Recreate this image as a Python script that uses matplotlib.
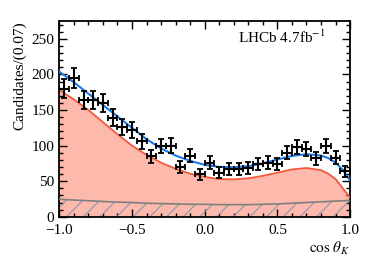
import numpy as np
import matplotlib
matplotlib.use("Agg")
import matplotlib.pyplot as plt
from matplotlib.ticker import MultipleLocator

plt.rcParams['font.family'] = ['Liberation Serif', 'DejaVu Serif']
plt.rcParams['mathtext.fontset'] = 'stix'
plt.rcParams['hatch.color'] = '#8a9aab'
plt.rcParams['hatch.linewidth'] = 0.8

# data points (30 bins in cos theta_K)
bin_centres = np.linspace(-1, 1, 31)[:-1] + 1 / 30
counts = [180, 195, 164, 164, 160, 139, 126, 122, 106, 85,
          99, 100, 70, 86, 60, 76, 62, 67, 67, 69,
          74, 76, 74, 90, 98, 95, 82, 99, 83, 64]

# fit curves
curve_x = [-1.0, -0.9, -0.8, -0.7, -0.6, -0.5, -0.4, -0.3, -0.2, -0.1, 0.0,
           0.1, 0.2, 0.3, 0.4, 0.5, 0.6, 0.7, 0.8, 0.85, 0.9, 0.95, 1.0]
total_fit = [204, 189, 173, 157, 141, 125, 109, 96, 86, 78.5, 73,
             70, 69.5, 71, 75, 80.5, 85.5, 88, 86, 82.5, 76, 66, 51]
signal_fit = [178, 165, 150, 133, 116, 100, 87, 76, 67.5, 60.5, 56,
              53, 52.5, 54, 57.5, 62, 66.5, 68.5, 65.5, 60.5, 53, 40, 27]
background = [24.5, 23.5, 22.5, 21.5, 20.5, 20, 19, 18.5, 18, 17.5, 17.5,
              17, 17, 17, 17.5, 18, 19, 20, 21, 21.5, 22, 22.5, 23]

fig = plt.figure(figsize=(3.74, 2.64), dpi=100)
ax = fig.add_axes([0.1586, 0.179, 0.7775, 0.741])

ax.fill_between(curve_x, 0, signal_fit, color='#fcb9ac', lw=0, zorder=1)
ax.fill_between(curve_x, 0, background, facecolor='none', edgecolor='#8a9aab',
                hatch='//', lw=0, zorder=2)
ax.plot(curve_x, background, color='#7f7f7f', lw=1.2, zorder=3)
ax.plot(curve_x, signal_fit, color='#f4583c', lw=1.3, zorder=4)
ax.plot(curve_x, total_fit, color='#1a7be6', lw=1.5, zorder=5)

ax.errorbar(bin_centres, counts, xerr=1 / 30, yerr=np.sqrt(counts), fmt='none',
            ecolor='black', elinewidth=1.5, capsize=2.5, capthick=1.3, zorder=6)

ax.set_xlim(-1, 1)
ax.set_ylim(0, 275)
ax.xaxis.set_major_locator(MultipleLocator(0.5))
ax.xaxis.set_minor_locator(MultipleLocator(0.1))
ax.yaxis.set_major_locator(MultipleLocator(50))
ax.yaxis.set_minor_locator(MultipleLocator(10))
ax.tick_params(which='both', direction='in', top=True, right=True, labelsize=11,
               width=1)
ax.tick_params(which='major', length=6)
ax.tick_params(which='minor', length=3)
ax.tick_params(axis='x', pad=5)
for s in ax.spines.values():
    s.set_linewidth(1.3)

ax.set_xticks([-1.0, -0.5, 0.0, 0.5, 1.0])
ax.set_xticklabels(['\u22121.0', '\u22120.5', '0.0', '0.5', '1.0'])

ax.set_xlabel(r'$\cos\,\theta_K$', fontsize=11, loc='right', labelpad=2)
ax.set_ylabel('Candidates/(0.07)', fontsize=11, loc='top', labelpad=4)
ax.text(0.915, 0.915, r'LHCb 4.7fb$^{-1}$', transform=ax.transAxes,
        ha='right', va='center', fontsize=11)

fig.savefig('out.png', dpi=100)
